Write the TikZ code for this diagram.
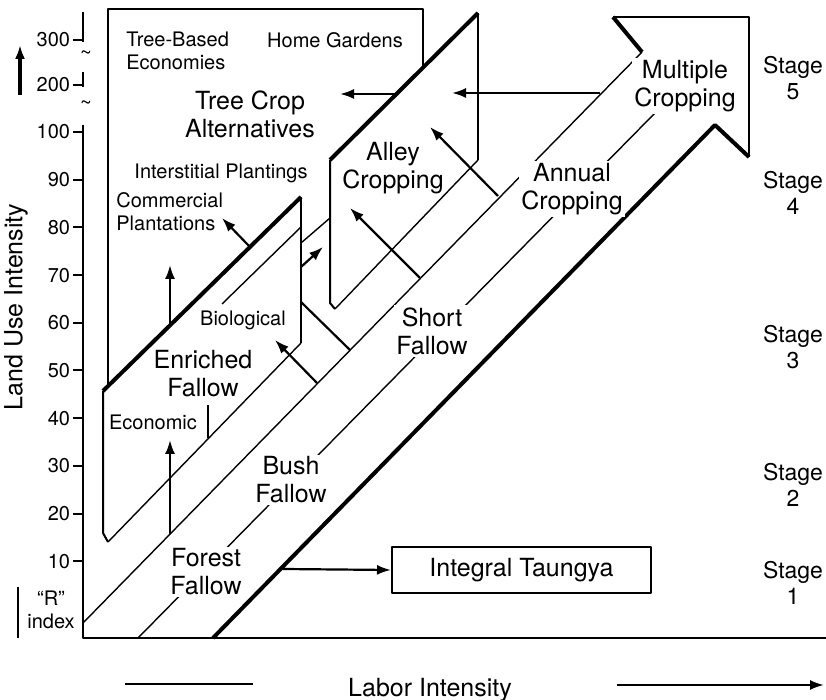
\documentclass[tikz,border=0pt]{standalone}
\usepackage{fontspec}
\setmainfont{TeX Gyre Heros}
\usetikzlibrary{arrows.meta}

\tikzset{
  thinline/.style={line width=0.7pt},
  edge/.style={line width=1pt},
  heavy/.style={line width=2pt},
  arr/.style={line width=1.1pt,-{Latex[length=7pt,width=5pt]}},
  lbl/.style={font=\fontsize{10}{11.5}\selectfont,align=center,inner sep=1pt},
  biglbl/.style={font=\fontsize{12.5}{14}\selectfont,align=center,inner sep=1pt},
  stagelbl/.style={font=\fontsize{11.5}{13}\selectfont,align=center,inner sep=1pt},
}

\begin{document}
\begin{tikzpicture}[x=0.5pt,y=-0.5pt,line join=round]
\useasboundingbox (0,0) rectangle (826,700);

%	eixos
\draw[edge] (83,125) -- (83,638) -- (826,638);
\draw[edge] (83,12) -- (83,42);
\draw[edge] (83,72) -- (83,87);
\draw[edge] (83,40) -- (73,40) node[left,lbl] (t300) {300};
\draw[edge] (83,85) -- (73,85) node[left,lbl] (t200) {200};
\node[lbl] (brk1) at (86,55) {\textasciitilde};
\node[lbl] (brk2) at (86,105) {\textasciitilde};
\foreach \v [count=\i from 0] in {100,90,...,10}
  \draw[edge] (83,132+47.7*\i) -- (73,132+47.7*\i) node[left,lbl] {\v};

\node[biglbl,rotate=90] (yl) at (16,307) {Land Use Intensity};
\draw[arr,line width=1.7pt] (20,95) -- (20,45);
\draw[edge] (18,587) -- (18,638);
\node[lbl] (rix) at (51,610) {“R”\\index};

\node[biglbl] (xl) at (430,690) {Labor Intensity};
\draw[edge] (125,684) -- (253,684);
\draw[arr] (617,685) -- (824,685);

%	estagios
\node[stagelbl] (s5) at (793,78) {Stage\\5};
\node[stagelbl] (s4) at (793,193) {Stage\\4};
\node[stagelbl] (s3) at (793,347) {Stage\\3};
\node[stagelbl] (s2) at (793,485) {Stage\\2};
\node[stagelbl] (s1) at (793,583) {Stage\\1};

%	painel de fundo
\draw[edge] (108,386) -- (108,9) -- (423,9) -- (423,66);
\node[lbl,align=left,anchor=west] (tbe) at (124,51) {Tree-Based\\Economies};
\node[lbl] (hg) at (335,40) {Home Gardens};
\node[biglbl] (tca) at (250,114) {Tree Crop\\Alternatives};
\node[lbl] (ip) at (221,173) {Interstitial Plantings};
\node[lbl,align=left,anchor=west] (cp) at (114,212) {Commercial\\Plantations};

%	seta principal
\coordinate (r0) at (83,623);
\coordinate (r1) at (642,52);
\coordinate (t0) at (213,638);
\coordinate (t1) at (715,125);
\draw[thinline] (r0) -- (r1);
\draw[heavy] (r1) -- (613,17);
\draw[edge] (613,17) -- (749,17) -- (749,157);
\draw[heavy] (749,157) -- (t1) -- (t0);
\draw[thinline] (138,638) -- (655,113);
\node[biglbl,fill=white] (ff) at (206,572) {Forest\\Fallow};
\node[biglbl,fill=white] (bf) at (291,480) {Bush\\Fallow};
\node[biglbl,fill=white] (sf) at (432,331) {Short\\Fallow};
\node[biglbl,fill=white] (ac) at (572,189) {Annual\\Cropping};
\node[biglbl,fill=white] (mc) at (685,86) {Multiple\\Cropping};

\node[biglbl,draw,edge,minimum width=129.5pt,minimum height=23pt] (it) at (521.5,570) {Integral Taungya};
\coordinate (tg) at (283,569);
\draw[arr] (tg) -- (it.west);

%	painel enriquecido
\draw[heavy] (103,391) -- (301,197);
\draw[edge] (103,391) -- (103,533) -- (108,542);
\draw[thinline] (108,542) -- (301,343);
\draw[edge] (301,343) -- (301,197);
\draw[thinline] (222,304) -- (301,227);
\node[lbl] (bio) at (243,320) {Biological};
\node[biglbl] (ef) at (203,374) {Enriched\\Fallow};
\node[lbl] (eco) at (153,422) {Economic};
\draw[edge] (208,438) -- (208,405);

%	painel alley
\draw[heavy] (330,160) -- (478,13);
\draw[edge] (478,13) -- (478,160);
\draw[thinline] (478,160) -- (335,309);
\draw[edge] (335,309) -- (330,303) -- (330,160);
\draw[thinline] (301,243) -- (330,218);
\node[biglbl] (alc) at (393,168) {Alley\\Cropping};

%	setas
\draw[arr] (170,534) -- (170,440);
\draw[arr] (170,324) -- (170,265);
\draw[arr] (250,247) -- (222,218);
\draw[arr] (317,383) -- (275,340);
\draw[arr] (301,267) -- (323,247);
\draw[line width=1.1pt] (301,302) -- (350,350);
\draw[arr] (420,278) -- (350,208);
\draw[arr] (498,196) -- (430,127);
\draw[arr] (600,93) -- (452,93);
\draw[arr] (397,94) -- (340,94);
\end{tikzpicture}
\end{document}
